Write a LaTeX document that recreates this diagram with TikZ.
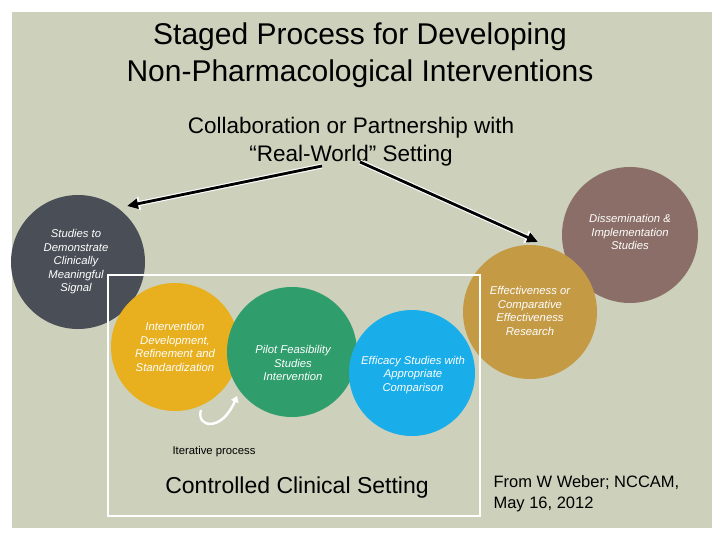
\documentclass[tikz,border=0pt]{standalone}
\usepackage{fontspec}
\setmainfont{Liberation Sans}
\usetikzlibrary{arrows.meta}
\definecolor{panel}{HTML}{CDD1BC}
\definecolor{cgrey}{HTML}{4A4F57}
\definecolor{cbrown}{HTML}{8A6E67}
\definecolor{cgold}{HTML}{C49A45}
\definecolor{cyell}{HTML}{E8AF1E}
\definecolor{cgreen}{HTML}{2F9D6C}
\definecolor{cblue}{HTML}{19AEEA}
\tikzset{
  stage/.style={circle,minimum size=#1,inner sep=0pt},
  lbl/.style={text=white,font=\fontsize{11.3}{13.5}\selectfont\itshape,align=center},
  bigarrow/.style={line width=2.8pt,-{Triangle[length=11pt,width=10pt]}},
}
\begin{document}
\begin{tikzpicture}[x=1pt,y=-1pt]
\useasboundingbox (0,0) rectangle (720,540);
\fill[white] (0,0) rectangle (720,540);
\fill[panel] (12,12) rectangle (712,528);
\node[font=\fontsize{30}{37}\selectfont,align=center] (title) at (360,55) {Staged Process for Developing\\Non-Pharmacological Interventions};
\node[font=\fontsize{22.5}{28}\selectfont,align=center] (collab) at (351,142) {Collaboration or Partnership with\\“Real-World” Setting};
% circles
\node[stage=134pt,fill=cgrey] (c1) at (78,262) {};
\node[stage=136pt,fill=cbrown] (c6) at (630,235) {};
\node[stage=134pt,fill=cgold] (c5) at (530,312) {};
\node[stage=128pt,fill=cyell] (c2) at (175,347) {};
\node[stage=130pt,fill=cgreen] (c3) at (292,352) {};
\node[stage=126pt,fill=cblue] (c4) at (412,373) {};
% arrows
\coordinate (a1s) at (322,166);
\coordinate (a1e) at (127,206);
\coordinate (a2s) at (360,162);
\coordinate (a2e) at (538,242);
\draw[bigarrow,white,line width=5pt,-{Triangle[length=13pt,width=13pt]}] (a1s) -- (a1e);
\draw[bigarrow] (a1s) -- (a1e);
\draw[bigarrow,white,line width=5pt,-{Triangle[length=13pt,width=13pt]}] (a2s) -- (a2e);
\draw[bigarrow] (a2s) -- (a2e);
% setting box
\draw[white,line width=1.5pt] (108,275) rectangle (480,516);
% labels
\node[lbl] at (76,262) {Studies to\\Demonstrate\\Clinically\\Meaningful\\Signal};
\node[lbl] at (630,232) {Dissemination \&\\Implementation\\Studies};
\node[lbl] at (530,311) {Effectiveness or\\Comparative\\Effectiveness\\Research};
\node[lbl] at (175,347) {Intervention\\Development,\\Refinement and\\Standardization};
\node[lbl] at (293,363) {Pilot Feasibility\\Studies\\Intervention};
\node[lbl] at (413,375) {Efficacy Studies with\\Appropriate\\Comparison};
% iterative arrow
\coordinate (it1) at (201,410);
\coordinate (it2) at (237,396);
\draw[white,line width=2.5pt,-{Triangle[length=6pt,width=8pt]}] (it1) .. controls (196,428) and (222,432) .. (it2);
\draw[panel,line width=0.8pt] (202,412) .. controls (199,425) and (220,428) .. (232,401);
\node[font=\fontsize{11.3}{13}\selectfont] (iter) at (214,452) {Iterative process};
\node[font=\fontsize{23}{26}\selectfont] (ccs) at (297,488) {Controlled Clinical Setting};
\node[font=\fontsize{16.5}{21}\selectfont,align=left,anchor=west] (from) at (490,494) {From W Weber; NCCAM,\\May 16, 2012};
\end{tikzpicture}
\end{document}
